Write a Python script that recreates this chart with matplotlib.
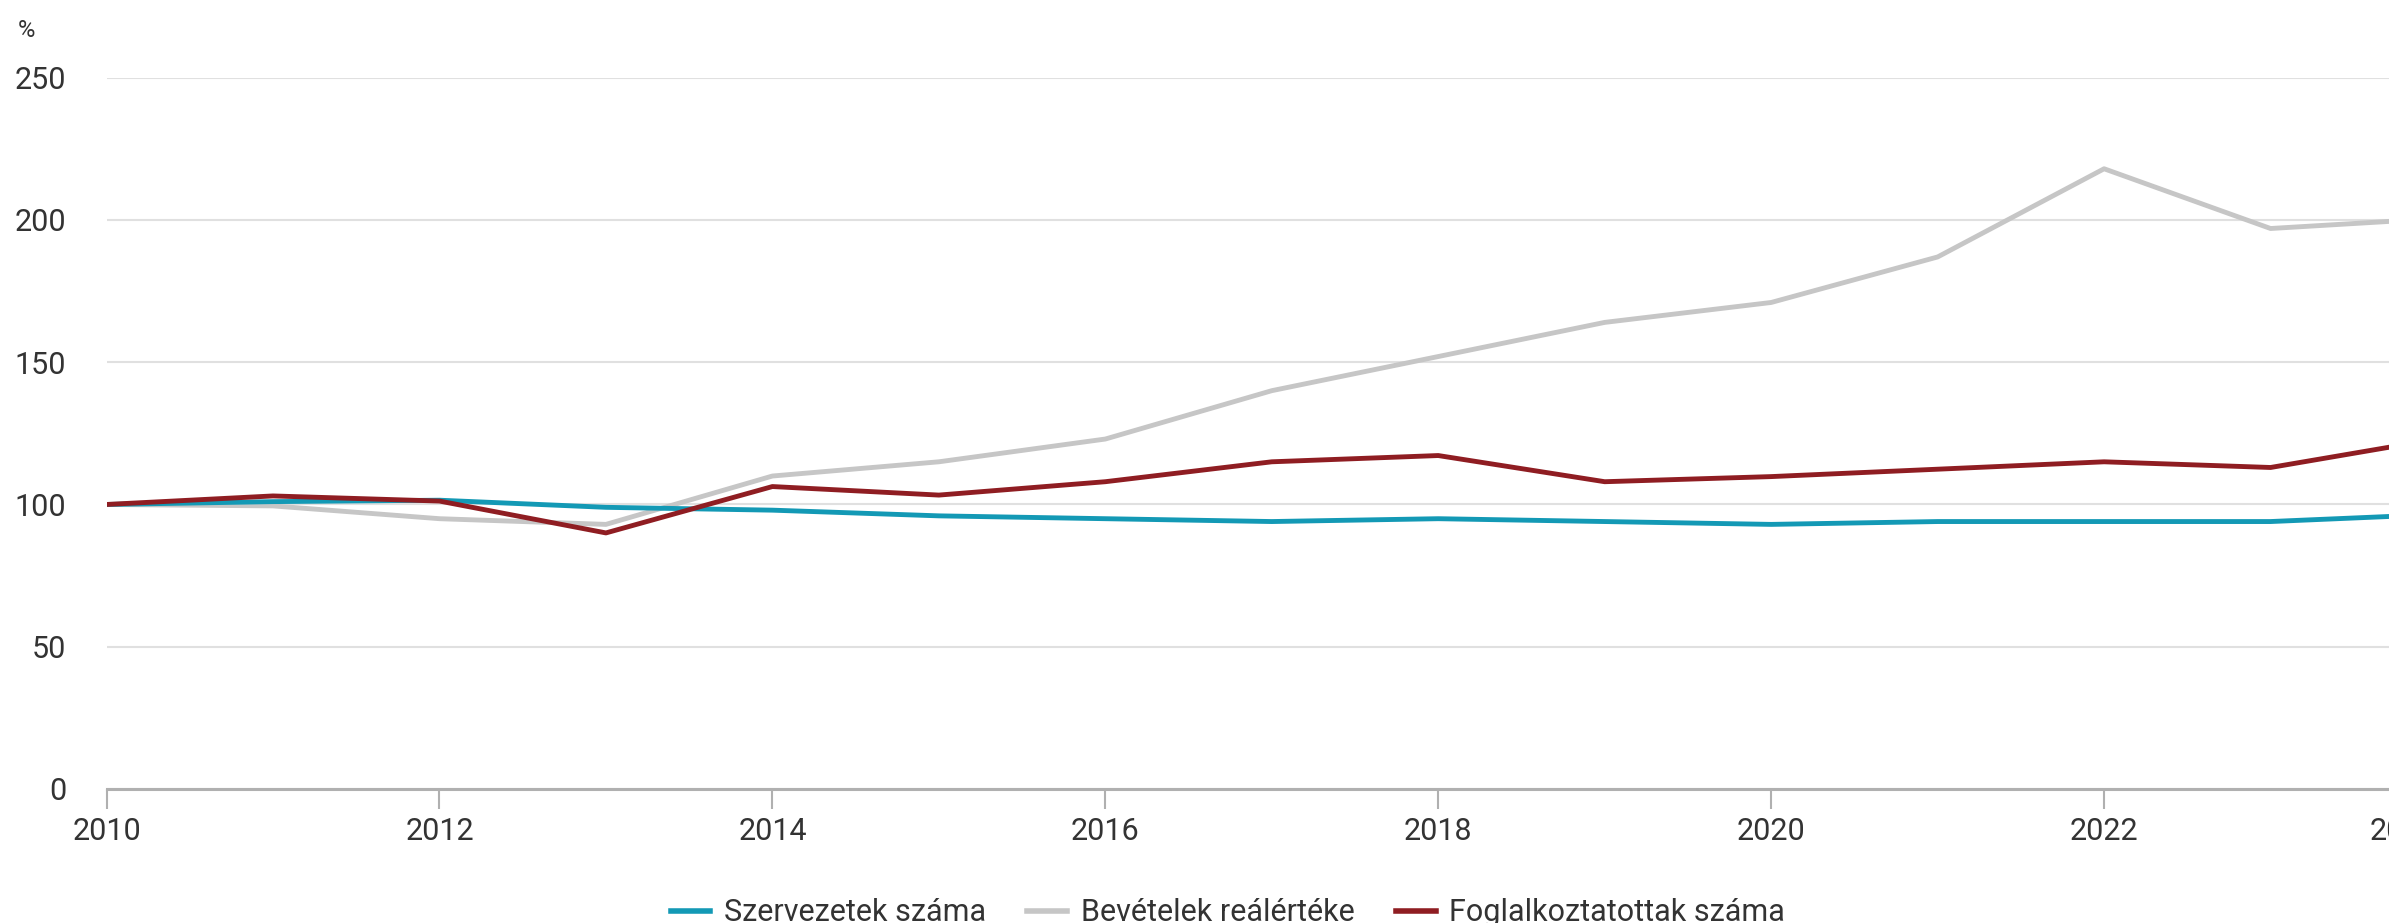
import matplotlib
matplotlib.use("Agg")
import matplotlib.pyplot as plt

years = list(range(2010, 2025))
szervezetek = [100, 101, 101.5, 99, 98, 96, 95, 94, 95, 94, 93, 94, 94, 94, 96.5]
bevetelek = [100, 99.5, 95, 93, 110, 115, 123, 140, 152, 164, 171, 187, 218, 197, 200.5]
foglalkoztatottak = [100, 103, 101.2, 90, 106.3, 103.3, 108, 115, 117.2, 108, 109.8, 112.4, 115, 113, 123]

x_ticks = list(range(2010, 2025, 2))
y_ticks = [0, 50, 100, 150, 200, 250]

plt.rcParams['font.family'] = ['Roboto', 'DejaVu Sans']

fig = plt.figure(figsize=(23.89, 9.23), dpi=100)
# axes run a bit past the right edge, like the cropped original
ax = fig.add_axes([0.0446, 0.1452, 0.9755, 0.7706])

ax.plot(years, bevetelek, color='#c6c6c6', lw=3.5, label='Bevételek reálértéke', zorder=3)
ax.plot(years, szervezetek, color='#1399b5', lw=3.5, label='Szervezetek száma', zorder=4)
ax.plot(years, foglalkoztatottak, color='#8f1d22', lw=3.5, label='Foglalkoztatottak száma', zorder=5)

ax.set_xlim(2010, 2024)
ax.set_ylim(0, 250)
ax.set_xticks(x_ticks)
# last label is pulled inward (as in the original), drawn separately below
ax.set_xticklabels([str(t) for t in x_ticks[:-1]] + [''])
ax.set_yticks(y_ticks)

ax.grid(axis='y', color='#e0e0e0', lw=1.5)
ax.set_axisbelow(True)
for s in ['top', 'left', 'right']:
    ax.spines[s].set_visible(False)
ax.spines['bottom'].set_color('#b0b0b0')
ax.spines['bottom'].set_linewidth(2.2)
ax.spines['bottom'].set_zorder(6)

ax.tick_params(axis='x', length=14.4, width=1.5, color='#b0b0b0', pad=6,
               labelsize=22, labelcolor='#333333')
ax.tick_params(axis='y', length=0, pad=29, labelsize=22, labelcolor='#333333')

ax.annotate(str(x_ticks[-1]), xy=(x_ticks[-1], 0), xycoords=('data', 'axes fraction'),
            xytext=(-24, -20.5), textcoords='offset points', ha='center', va='top',
            fontsize=22, color='#333333', annotation_clip=False)

fig.text(0.0075, 0.967, '%', fontsize=17, color='#333333', va='center', ha='left')

handles, labels = ax.get_legend_handles_labels()
order = [1, 0, 2]
leg = fig.legend([handles[i] for i in order], [labels[i] for i in order],
                 loc='center', bbox_to_anchor=(0.514, 0.011), ncol=3, frameon=False,
                 fontsize=22, handlelength=1.3, handletextpad=0.45, columnspacing=1.35,
                 labelcolor='#333333')
for h in leg.legend_handles:
    h.set_linewidth(4)

fig.savefig('out.png', dpi=100)
